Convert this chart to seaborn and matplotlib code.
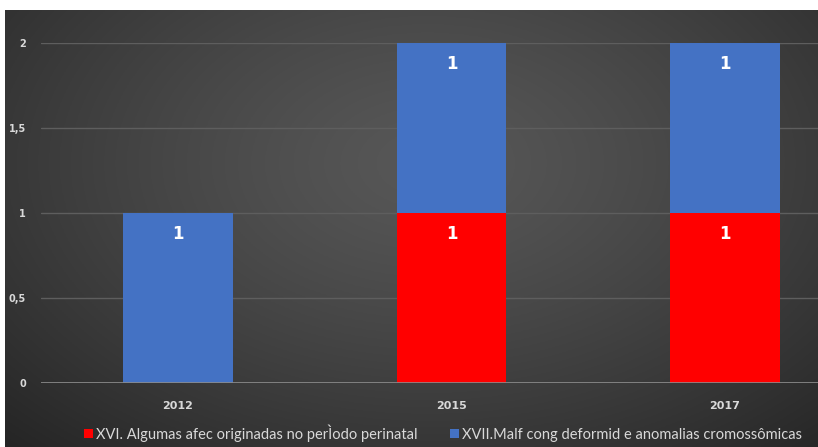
import numpy as np
import pandas as pd
import matplotlib
matplotlib.use("Agg")
import matplotlib.pyplot as plt
import seaborn as sns
from matplotlib.patches import Patch

years = ["2012", "2015", "2017"]
xvi_vals = [0, 1, 1]
xvii_vals = [1, 1, 1]
series_names = ["XVI. Algumas afec originadas no perÌodo perinatal",
                "XVII.Malf cong deformid e anomalias cromossômicas"]
ytick_vals = [0, 0.5, 1, 1.5, 2]
ytick_labels = ["0", "0,5", "1", "1,5", "2"]

RED = "#FF0000"
BLUE = "#4472C4"
TXT = "#D9D9D9"

sns.set_theme(style="white")
plt.rcParams["font.family"] = ["Lato", "DejaVu Sans"]

W, H = 818, 447
fig = plt.figure(figsize=(W / 100, H / 100), dpi=100)
fig.patch.set_facecolor("white")

# background radial gradient
bx0, by1 = 5, 10
bg = fig.add_axes([bx0 / W, 0, 1 - bx0 / W, 1 - by1 / H])
nx, ny = 400, 220
xx, yy = np.meshgrid(np.linspace(0, 1, nx), np.linspace(0, 1, ny))
r = np.sqrt(((xx - 0.52) / 0.75) ** 2 + ((yy - 0.35) / 0.9) ** 2)
r = np.clip(r, 0, 1)
c0, c1 = 0x57 / 255, 0x25 / 255
val = c0 + (c1 - c0) * r ** 1.3
img = np.dstack([val, val, val])
bg.imshow(img, aspect="auto", extent=[0, 1, 0, 1], origin="upper")
bg.set_axis_off()

# main axes: category band 273.5 px, first centre at x=178
band = 273.5
left = 178 - band / 2
ax_w = band * 3
y0_px, y2_px = 383, 43
ax = fig.add_axes([left / W, (H - y0_px) / H, ax_w / W, (y0_px - y2_px) / H])
ax.patch.set_alpha(0)

totals = [a + b for a, b in zip(xvi_vals, xvii_vals)]
df = pd.DataFrame({"year": years, "xvi": xvi_vals, "xvii": xvii_vals, "total": totals})

sns.barplot(data=df, x="year", y="total", color=BLUE, width=0.40, saturation=1,
            edgecolor="none", ax=ax, zorder=3)
sns.barplot(data=df, x="year", y="xvi", color=RED, width=0.40, saturation=1,
            edgecolor="none", ax=ax, zorder=3)

ax.set_xlim(-0.5, 2.5)
ax.set_ylim(0, 2)
ax.set_yticks(ytick_vals)
ax.set_yticklabels(ytick_labels)
ax.set_xlabel("")
ax.set_ylabel("")
for s in ax.spines.values():
    s.set_visible(False)
ax.grid(axis="y", color="#5E5E5E", linewidth=1.0, zorder=0)
ax.grid(axis="x", visible=False)
ax.axhline(0, color="#8C8C8C", linewidth=1.2, zorder=4)
ax.tick_params(axis="y", length=0, pad=11, labelsize=7, labelcolor=TXT)
ax.tick_params(axis="x", length=0, pad=13, labelsize=8, labelcolor=TXT)
for lab in ax.get_xticklabels() + ax.get_yticklabels():
    lab.set_fontweight("bold")
    lab.set_family(["DejaVu Sans"])

off = 0.125
for i in range(len(years)):
    if xvi_vals[i] > 0:
        ax.text(i, xvi_vals[i] - off, str(xvi_vals[i]), ha="center", va="center",
                color="white", fontsize=12, fontweight="bold", zorder=5,
                family=["DejaVu Sans"])
    if xvii_vals[i] > 0:
        ax.text(i, totals[i] - off, str(xvii_vals[i]), ha="center", va="center",
                color="white", fontsize=12, fontweight="bold", zorder=5,
                family=["DejaVu Sans"])

handles = [Patch(facecolor=RED, edgecolor="none"), Patch(facecolor=BLUE, edgecolor="none")]
fig.legend(handles, series_names, loc="center", bbox_to_anchor=(443 / W, 1 - 433 / H),
           ncol=2, frameon=False, fontsize=10.5, labelcolor=TXT,
           handlelength=0.62, handleheight=0.62, handletextpad=0.2, columnspacing=2.2)

fig.savefig("out.png", dpi=100)
